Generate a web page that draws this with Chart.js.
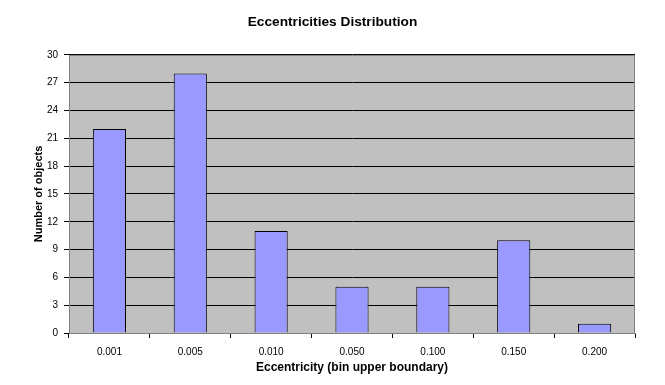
<!DOCTYPE html>
<html><head><meta charset="utf-8">
<script src="https://cdn.jsdelivr.net/npm/chart.js@4/dist/chart.umd.min.js"></script>
<style>html,body{margin:0;padding:0;background:#fff}#wrap{width:665px;height:385px}</style>
</head><body><div id="wrap"><canvas id="c" width="665" height="385"></canvas></div>
<script>
const categories = ["0.001","0.005","0.010","0.050","0.100","0.150","0.200"];
const counts = [22, 28, 11, 5, 5, 10, 1];
const titleText = "Eccentricities Distribution";
const xTitle = "Eccentricity (bin upper boundary)";
const yTitle = "Number of objects";

const plotBg = {
  id: 'plotBg',
  beforeDraw(chart) {
    const {ctx, chartArea: a} = chart;
    ctx.save();
    ctx.fillStyle = '#c0c0c0';
    ctx.fillRect(a.left, a.top, a.right - a.left, a.bottom - a.top);
    ctx.restore();
  },
  afterDatasetsDraw(chart) {
    const {ctx, chartArea: a} = chart;
    ctx.save();
    ctx.strokeStyle = '#808080';
    ctx.lineWidth = 1;
    ctx.strokeRect(a.left + 0.5, a.top + 0.5, a.right - a.left - 1, a.bottom - a.top);
    ctx.restore();
  }
};

Chart.defaults.font.family = "'Liberation Sans', Arial, sans-serif";
Chart.defaults.color = '#000';

new Chart(document.getElementById('c'), {
  type: 'bar',
  data: {
    labels: categories,
    datasets: [{
      data: counts,
      backgroundColor: '#9999ff',
      borderColor: '#000',
      borderWidth: 1,
      categoryPercentage: 1,
      barPercentage: 0.41
    }]
  },
  options: {
    responsive: false,
    animation: false,
    devicePixelRatio: 1,
    layout: { padding: { left: 30, right: 30, top: 0, bottom: 0 } },
    plugins: {
      legend: { display: false },
      tooltip: { enabled: false },
      title: {
        display: true,
        text: titleText,
        font: { size: 13.7, weight: 'bold' },
        color: '#000',
        padding: { top: 14, bottom: 24.5 }
      }
    },
    scales: {
      x: {
        afterFit(s) { s.height = 52; },
        grid: { offset: true, drawOnChartArea: false, drawTicks: true, tickLength: 5, color: '#000' },
        border: { color: '#808080' },
        ticks: { font: { size: 10 }, padding: 8, color: '#000', maxRotation: 0 },
        title: { display: true, text: xTitle, font: { size: 12, weight: 'bold' }, padding: { top: 2, bottom: 10.5 }, color: '#000' }
      },
      y: {
        min: 0, max: 30,
        afterFit(s) { s.width = 39; },
        grid: { color: '#000', drawTicks: true, tickLength: 5, tickColor: '#000' },
        border: { color: '#000' },
        ticks: { stepSize: 3, font: { size: 10 }, padding: 6, color: '#000' },
        title: { display: true, text: yTitle, font: { size: 11, weight: 'bold' }, padding: { top: 2, bottom: 4 }, color: '#000' }
      }
    }
  },
  plugins: [plotBg]
});
</script></body></html>
